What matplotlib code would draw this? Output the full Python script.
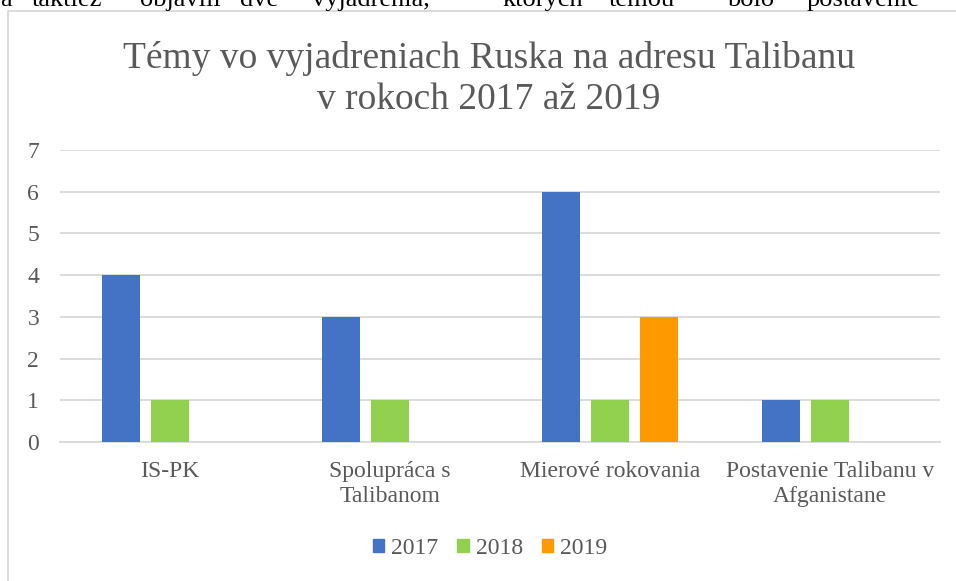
import matplotlib
matplotlib.use("Agg")
import matplotlib.pyplot as plt
from matplotlib.patches import Patch, Rectangle
import numpy as np

categories = ["IS-PK", "Spolupráca s\nTalibanom", "Mierové rokovania", "Postavenie Talibanu v\nAfganistane"]
years = ["2017", "2018", "2019"]
v2017 = [4, 3, 6, 1]
v2018 = [1, 1, 1, 1]
v2019 = [0, 0, 3, 0]
colors = ["#4472C4", "#92D050", "#FF9900"]
yticks = [0, 1, 2, 3, 4, 5, 6, 7]

top_words = ["a", "taktiež", "objavili", "dve", "vyjadrenia,", "ktorých", "témou", "bolo", "postavenie"]
top_word_x = [0, 32, 140, 240, 312, 503, 609, 727, 807]

W, H = 956, 581
fig = plt.figure(figsize=(W / 100, H / 100), dpi=100)
FONT = "Liberation Serif"
GREY = "#595959"

# chart border
fig.patches.append(Rectangle((8 / W, -0.1), 1.2, 1 - 11 / H + 0.1, transform=fig.transFigure,
                             fill=False, edgecolor="#d9d9d9", linewidth=1.3))

# clipped document text at the top
for w, x in zip(top_words, top_word_x):
    fig.text(x / W, 1 - 6 / H, w, fontsize=19, family=FONT, color="black", va="baseline", ha="left")

ax = fig.add_axes([60 / W, 1 - 442 / H, 880 / W, (442 - 150) / H])
x = np.arange(len(categories))
step = 0.2227
width = 0.173
for i, (vals, c) in enumerate(zip([v2017, v2018, v2019], colors)):
    ax.bar(x + (i - 1) * step, vals, width=width, color=c, zorder=3)

ax.set_xlim(-0.5, len(categories) - 0.5)
ax.set_ylim(0, 7)
ax.set_yticks(yticks)
ax.set_yticklabels([str(t) for t in yticks])
ax.set_xticks(x)
ax.set_xticklabels(categories)
ax.grid(axis="y", color="#d9d9d9", linewidth=1.3, zorder=0)
for s in ["top", "right", "left"]:
    ax.spines[s].set_visible(False)
ax.spines["bottom"].set_color("#d9d9d9")
ax.spines["bottom"].set_linewidth(1.3)
ax.tick_params(axis="both", length=0, colors=GREY)
ax.tick_params(axis="y", pad=15)
ax.tick_params(axis="x", pad=14)
for lab in ax.get_xticklabels() + ax.get_yticklabels():
    lab.set_fontfamily(FONT)
    lab.set_fontsize(17)
    lab.set_color(GREY)
for lab in ax.get_xticklabels():
    lab.set_linespacing(1.25)

fig.text(0.5 * (125 + 853) / W, 1 - 79 / H, "Témy vo vyjadreniach Ruska na adresu Talibanu\nv rokoch 2017 až 2019",
         ha="center", va="center", fontsize=27, family=FONT, color=GREY, linespacing=1.25)

handles = [Patch(facecolor=c, edgecolor=c) for c in colors]
leg = fig.legend(handles, years, loc="center", bbox_to_anchor=(490 / W, 1 - 548 / H), ncol=3,
                 frameon=False, handlelength=0.48, handleheight=0.48, handletextpad=0.3,
                 columnspacing=0.8, prop={"family": FONT, "size": 17})
for t in leg.get_texts():
    t.set_color(GREY)

fig.savefig("out.png", dpi=100)
